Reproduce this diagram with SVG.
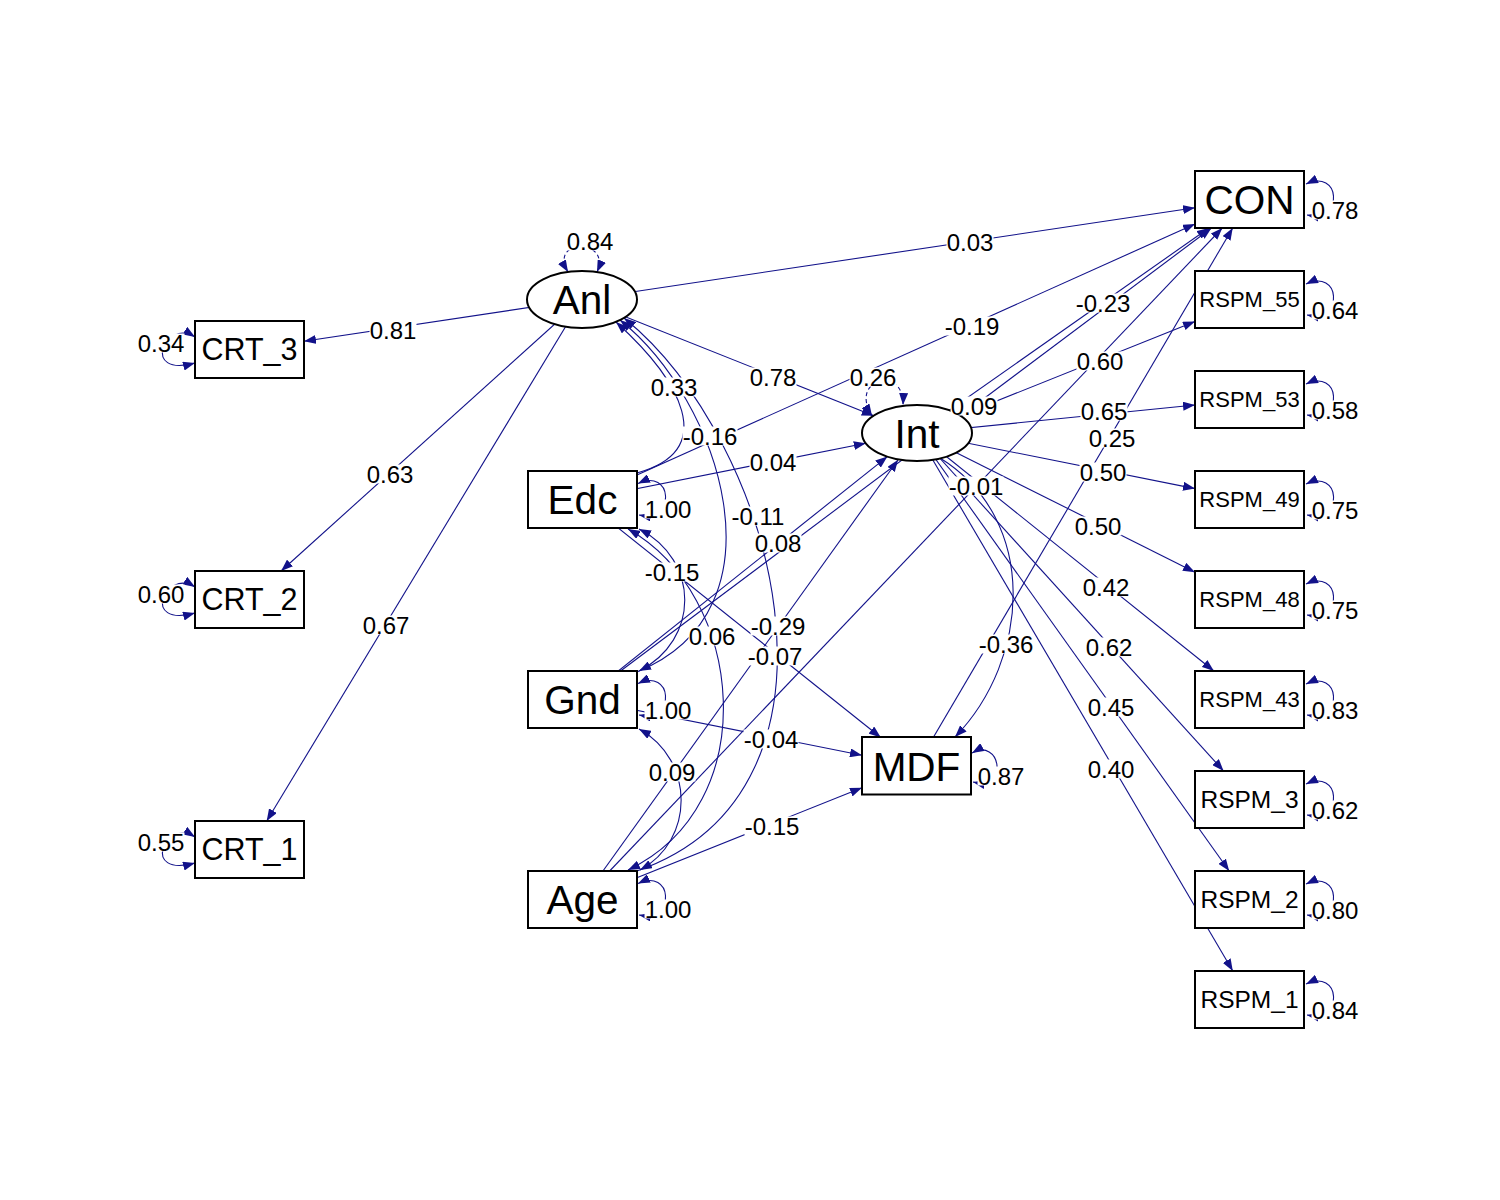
<svg xmlns="http://www.w3.org/2000/svg" width="1500" height="1200" viewBox="0 0 1500 1200">
<style>
  .e { fill: none; stroke: #12128a; stroke-width: 1.1; }
  .a { marker-end: url(#ah); }
  .b { marker-start: url(#ah); marker-end: url(#ah); }
  .d { stroke-dasharray: 4 3; }
  .node rect, .node ellipse { fill: #fff; stroke: #000; stroke-width: 2; }
  .node text { font-family: "Liberation Sans", Arial, sans-serif; text-anchor: middle; fill: #000; }
  .big { font-size: 40.5px; }
  .mid { font-size: 30.5px; }
  .sm { font-size: 22px; }
  .sm2 { font-size: 24.5px; }
  .lbl rect { fill: #fff; }
  .lbl text { font-family: "Liberation Sans", Arial, sans-serif; font-size: 24px; text-anchor: middle; fill: #000; }
</style>
<defs>
  <marker id="ah" markerUnits="userSpaceOnUse" viewBox="0 0 12 9" markerWidth="12" markerHeight="9" refX="12" refY="4.5" orient="auto-start-reverse">
    <path d="M0,0 L12,4.5 L0,9 z" fill="#12128a"/>
  </marker>
</defs>
<rect width="1500" height="1200" fill="#fff"/>

<g id="edges">
  <!-- loadings of Anl -->
  <path class="e a" d="M582,299.5 L304,341.3"/>
  <path class="e a" d="M582,299.5 L281.1,571"/>
  <path class="e a" d="M582,299.5 L266.7,821"/>
  <!-- regressions from Anl -->
  <path class="e a" d="M582,299.5 L1195,207.7"/>
  <path class="e a" d="M582,299.5 L873.7,415.7"/>
  <!-- loadings of Int -->
  <path class="e a" d="M917,433 L1195,321.4"/>
  <path class="e a" d="M917,433 L1195,405"/>
  <path class="e a" d="M917,433 L1195,488.6"/>
  <path class="e a" d="M917,433 L1195,572.2"/>
  <path class="e a" d="M917,433 L1213.9,671"/>
  <path class="e a" d="M917,433 L1223.6,771"/>
  <path class="e a" d="M917,433 L1229.2,871"/>
  <path class="e a" d="M917,433 L1232.8,971"/>
  <!-- regressions on CON -->
  <path class="e a" d="M917,433 L1208.9,228"/>
  <path class="e a" d="M916.5,766 L1232.7,228"/>
  <path class="e a" d="M582.5,899.5 L1222.3,228"/>
  <path class="e a" d="M582.5,699.5 L1211.5,228"/>
  <path class="e a" d="M582.5,499.5 L1195,224"/>
  <!-- regressions on Int -->
  <path class="e a" d="M582.5,499.5 L865.8,443.2"/>
  <path class="e a" d="M582.5,699.5 L887.4,456.6"/>
  <path class="e a" d="M582.5,899.5 L898.1,459.7"/>
  <!-- regressions on MDF -->
  <path class="e a" d="M582.5,499.5 L880.8,737.5"/>
  <path class="e a" d="M582.5,699.5 L862,755.2"/>
  <path class="e a" d="M582.5,899.5 L862,787.8"/>
  <path class="e a" d="M940,458 C1040,520 1030,660 955,737"/>
  <!-- regressions on Anl -->
  <path class="e a" d="M637,473 C720,450 680,380 616,322"/>
  <path class="e a" d="M637,672 C790,610 720,400 620,320"/>
  <path class="e a" d="M637,871 C870,790 775,440 624,318"/>
  <!-- covariances -->
  <path class="e b" d="M639,529 C700,560 700,640 639,671"/>
  <path class="e b" d="M628,529 C745,595 765,805 628,870"/>
  <path class="e b" d="M639,729 C695,760 695,840 640,870"/>
  <!-- variances -->
  <path class="e b d" d="M568,272 C548,238 612,238 597,272"/>
  <path class="e b d" d="M872,416 C848,378 905,365 903,405"/>
  <path class="e b" d="M195,337 C165,318 140,378 195,363"/>
  <path class="e b" d="M195,587 C165,568 140,628 195,613"/>
  <path class="e b" d="M195,837 C165,818 140,878 195,863"/>
  <path class="e b" d="M638,483.5 C672,467.5 677,521.5 639,515"/>
  <path class="e b" d="M638,683.5 C672,667.5 677,721.5 639,715"/>
  <path class="e b" d="M638,883.5 C672,867.5 677,921.5 639,915"/>
  <path class="e b" d="M972,753 C1000,737 1010,790 973,782"/>
  <path class="e b" d="M1306,184 C1340,168 1345,222 1307,215"/>
  <path class="e b" d="M1306,284 C1340,268 1345,322 1307,315"/>
  <path class="e b" d="M1306,384 C1340,368 1345,422 1307,415"/>
  <path class="e b" d="M1306,484 C1340,468 1345,522 1307,515"/>
  <path class="e b" d="M1306,584 C1340,568 1345,622 1307,615"/>
  <path class="e b" d="M1306,684 C1340,668 1345,722 1307,715"/>
  <path class="e b" d="M1306,784 C1340,768 1345,822 1307,815"/>
  <path class="e b" d="M1306,884 C1340,868 1345,922 1307,915"/>
  <path class="e b" d="M1306,984 C1340,968 1345,1022 1307,1015"/>
</g>

<g id="Anl" class="node"><ellipse cx="582" cy="299.5" rx="55" ry="28.5"/><text class="big" x="582" y="314">Anl</text></g>
<g id="Int" class="node"><ellipse cx="917" cy="433" rx="55" ry="28"/><text class="big" x="917" y="447.5">Int</text></g>
<g id="CRT_3" class="node"><rect x="195" y="321" width="109" height="57"/><text class="mid" x="249.5" y="360.4">CRT_3</text></g>
<g id="CRT_2" class="node"><rect x="195" y="571" width="109" height="57"/><text class="mid" x="249.5" y="610.4">CRT_2</text></g>
<g id="CRT_1" class="node"><rect x="195" y="821" width="109" height="57"/><text class="mid" x="249.5" y="860.4">CRT_1</text></g>
<g id="Edc" class="node"><rect x="528" y="471" width="109" height="57"/><text class="big" x="582.5" y="514">Edc</text></g>
<g id="Gnd" class="node"><rect x="528" y="671" width="109" height="57"/><text class="big" x="582.5" y="714">Gnd</text></g>
<g id="Age" class="node"><rect x="528" y="871" width="109" height="57"/><text class="big" x="582.5" y="914">Age</text></g>
<g id="MDF" class="node"><rect x="862" y="737" width="109" height="57.5"/><text class="big" x="916.5" y="781">MDF</text></g>
<g id="CON" class="node"><rect x="1195" y="171" width="109" height="57"/><text class="big" x="1249.5" y="214">CON</text></g>
<g id="RSPM_55" class="node"><rect x="1195" y="271" width="109" height="57"/><text class="sm" x="1249.5" y="307.4">RSPM_55</text></g>
<g id="RSPM_53" class="node"><rect x="1195" y="371" width="109" height="57"/><text class="sm" x="1249.5" y="407.4">RSPM_53</text></g>
<g id="RSPM_49" class="node"><rect x="1195" y="471" width="109" height="57"/><text class="sm" x="1249.5" y="507.4">RSPM_49</text></g>
<g id="RSPM_48" class="node"><rect x="1195" y="571" width="109" height="57"/><text class="sm" x="1249.5" y="607.4">RSPM_48</text></g>
<g id="RSPM_43" class="node"><rect x="1195" y="671" width="109" height="57"/><text class="sm" x="1249.5" y="707.4">RSPM_43</text></g>
<g id="RSPM_3" class="node"><rect x="1195" y="771" width="109" height="57"/><text class="sm2" x="1249.5" y="808.3">RSPM_3</text></g>
<g id="RSPM_2" class="node"><rect x="1195" y="871" width="109" height="57"/><text class="sm2" x="1249.5" y="908.3">RSPM_2</text></g>
<g id="RSPM_1" class="node"><rect x="1195" y="971" width="109" height="57"/><text class="sm2" x="1249.5" y="1008.3">RSPM_1</text></g>

<g id="edge-labels" class="lbl">
  <rect x="566.5" y="231.5" width="47" height="19"/><text x="590" y="249.6">0.84</text>
  <rect x="369.5" y="320.5" width="47" height="19"/><text x="393" y="338.6">0.81</text>
  <rect x="137.5" y="333.5" width="47" height="19"/><text x="161" y="351.6">0.34</text>
  <rect x="366.5" y="464.5" width="47" height="19"/><text x="390" y="482.6">0.63</text>
  <rect x="137.5" y="584.5" width="47" height="19"/><text x="161" y="602.6">0.60</text>
  <rect x="362.5" y="615.5" width="47" height="19"/><text x="386" y="633.6">0.67</text>
  <rect x="137.5" y="832.5" width="47" height="19"/><text x="161" y="850.6">0.55</text>
  <rect x="946.5" y="232.5" width="47" height="19"/><text x="970" y="250.6">0.03</text>
  <rect x="944.5" y="316.5" width="55" height="19"/><text x="972" y="334.6">-0.19</text>
  <rect x="1075.5" y="293.5" width="55" height="19"/><text x="1103" y="311.6">-0.23</text>
  <rect x="1076.5" y="351.5" width="47" height="19"/><text x="1100" y="369.6">0.60</text>
  <rect x="749.5" y="367.5" width="47" height="19"/><text x="773" y="385.6">0.78</text>
  <rect x="849.5" y="367.5" width="47" height="19"/><text x="873" y="385.6">0.26</text>
  <rect x="950.5" y="396.5" width="47" height="19"/><text x="974" y="414.6">0.09</text>
  <rect x="650.5" y="377.5" width="47" height="19"/><text x="674" y="395.6">0.33</text>
  <rect x="682.5" y="426.5" width="55" height="19"/><text x="710" y="444.6">-0.16</text>
  <rect x="1080.5" y="401.5" width="47" height="19"/><text x="1104" y="419.6">0.65</text>
  <rect x="1088.5" y="428.5" width="47" height="19"/><text x="1112" y="446.6">0.25</text>
  <rect x="749.5" y="452.5" width="47" height="19"/><text x="773" y="470.6">0.04</text>
  <rect x="1079.5" y="462.5" width="47" height="19"/><text x="1103" y="480.6">0.50</text>
  <rect x="1074.5" y="516.5" width="47" height="19"/><text x="1098" y="534.6">0.50</text>
  <rect x="948.5" y="476.5" width="55" height="19"/><text x="976" y="494.6">-0.01</text>
  <rect x="644.5" y="499.5" width="47" height="19"/><text x="668" y="517.6">1.00</text>
  <rect x="730.5" y="506.5" width="55" height="19"/><text x="758" y="524.6">-0.11</text>
  <rect x="754.5" y="533.5" width="47" height="19"/><text x="778" y="551.6">0.08</text>
  <rect x="644.5" y="562.5" width="55" height="19"/><text x="672" y="580.6">-0.15</text>
  <rect x="1082.5" y="577.5" width="47" height="19"/><text x="1106" y="595.6">0.42</text>
  <rect x="688.5" y="626.5" width="47" height="19"/><text x="712" y="644.6">0.06</text>
  <rect x="750.5" y="616.5" width="55" height="19"/><text x="778" y="634.6">-0.29</text>
  <rect x="747.5" y="646.5" width="55" height="19"/><text x="775" y="664.6">-0.07</text>
  <rect x="1085.5" y="637.5" width="47" height="19"/><text x="1109" y="655.6">0.62</text>
  <rect x="978.5" y="634.5" width="55" height="19"/><text x="1006" y="652.6">-0.36</text>
  <rect x="644.5" y="700.5" width="47" height="19"/><text x="668" y="718.6">1.00</text>
  <rect x="743.5" y="729.5" width="55" height="19"/><text x="771" y="747.6">-0.04</text>
  <rect x="1087.5" y="697.5" width="47" height="19"/><text x="1111" y="715.6">0.45</text>
  <rect x="648.5" y="762.5" width="47" height="19"/><text x="672" y="780.6">0.09</text>
  <rect x="1087.5" y="759.5" width="47" height="19"/><text x="1111" y="777.6">0.40</text>
  <rect x="744.5" y="816.5" width="55" height="19"/><text x="772" y="834.6">-0.15</text>
  <rect x="644.5" y="899.5" width="47" height="19"/><text x="668" y="917.6">1.00</text>
  <rect x="977.5" y="766.5" width="47" height="19"/><text x="1001" y="784.6">0.87</text>
  <rect x="1311.5" y="200.5" width="47" height="19"/><text x="1335" y="218.6">0.78</text>
  <rect x="1311.5" y="300.5" width="47" height="19"/><text x="1335" y="318.6">0.64</text>
  <rect x="1311.5" y="400.5" width="47" height="19"/><text x="1335" y="418.6">0.58</text>
  <rect x="1311.5" y="500.5" width="47" height="19"/><text x="1335" y="518.6">0.75</text>
  <rect x="1311.5" y="600.5" width="47" height="19"/><text x="1335" y="618.6">0.75</text>
  <rect x="1311.5" y="700.5" width="47" height="19"/><text x="1335" y="718.6">0.83</text>
  <rect x="1311.5" y="800.5" width="47" height="19"/><text x="1335" y="818.6">0.62</text>
  <rect x="1311.5" y="900.5" width="47" height="19"/><text x="1335" y="918.6">0.80</text>
  <rect x="1311.5" y="1000.5" width="47" height="19"/><text x="1335" y="1018.6">0.84</text>
</g>
</svg>
